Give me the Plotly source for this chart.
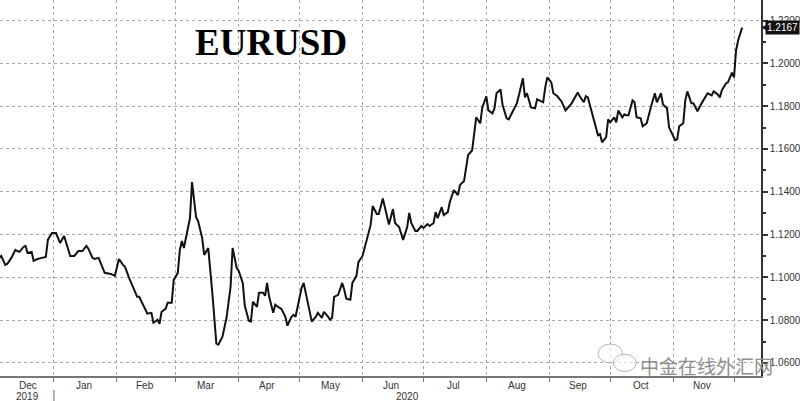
import plotly.graph_objects as go

# ---- data ----
dates = [
    "2019-12-05", "2019-12-06", "2019-12-08", "2019-12-09", "2019-12-11", "2019-12-13", "2019-12-14",
    "2019-12-15", "2019-12-17", "2019-12-18", "2019-12-19", "2019-12-21", "2019-12-22", "2019-12-24",
    "2019-12-26", "2019-12-28", "2019-12-29", "2019-12-31", "2020-01-02", "2020-01-04", "2020-01-06",
    "2020-01-09", "2020-01-11", "2020-01-13", "2020-01-15", "2020-01-17", "2020-01-18", "2020-01-20",
    "2020-01-21", "2020-01-23", "2020-01-26", "2020-01-29", "2020-01-31", "2020-02-02", "2020-02-04",
    "2020-02-05", "2020-02-07", "2020-02-08", "2020-02-11", "2020-02-12", "2020-02-15", "2020-02-16",
    "2020-02-18", "2020-02-19", "2020-02-21", "2020-02-22", "2020-02-23", "2020-02-25", "2020-02-26",
    "2020-02-28", "2020-02-29", "2020-03-02", "2020-03-03", "2020-03-04", "2020-03-05", "2020-03-07",
    "2020-03-08", "2020-03-09", "2020-03-11", "2020-03-12", "2020-03-14", "2020-03-15", "2020-03-17",
    "2020-03-19", "2020-03-21", "2020-03-22", "2020-03-24", "2020-03-26", "2020-03-28", "2020-03-29",
    "2020-03-31", "2020-04-01", "2020-04-03", "2020-04-04", "2020-04-06", "2020-04-07", "2020-04-08",
    "2020-04-10", "2020-04-11", "2020-04-13", "2020-04-14", "2020-04-15", "2020-04-16", "2020-04-18",
    "2020-04-19", "2020-04-21", "2020-04-22", "2020-04-24", "2020-04-25", "2020-04-27", "2020-04-28",
    "2020-04-29", "2020-04-30", "2020-05-02", "2020-05-03", "2020-05-05", "2020-05-07", "2020-05-09",
    "2020-05-10", "2020-05-12", "2020-05-13", "2020-05-15", "2020-05-16", "2020-05-17", "2020-05-18",
    "2020-05-20", "2020-05-22", "2020-05-23", "2020-05-24", "2020-05-26", "2020-05-27", "2020-05-29",
    "2020-05-30", "2020-06-01", "2020-06-02", "2020-06-04", "2020-06-05", "2020-06-06", "2020-06-08",
    "2020-06-09", "2020-06-10", "2020-06-11", "2020-06-14", "2020-06-16", "2020-06-17", "2020-06-19",
    "2020-06-21", "2020-06-23", "2020-06-24", "2020-06-25", "2020-06-27", "2020-06-28", "2020-06-30",
    "2020-07-01", "2020-07-03", "2020-07-04", "2020-07-06", "2020-07-07", "2020-07-08", "2020-07-10",
    "2020-07-11", "2020-07-13", "2020-07-14", "2020-07-16", "2020-07-18", "2020-07-19", "2020-07-21",
    "2020-07-22", "2020-07-23", "2020-07-25", "2020-07-26", "2020-07-27", "2020-07-29", "2020-07-30",
    "2020-08-01", "2020-08-02", "2020-08-04", "2020-08-05", "2020-08-06", "2020-08-08", "2020-08-09",
    "2020-08-11", "2020-08-12", "2020-08-14", "2020-08-16", "2020-08-17", "2020-08-19", "2020-08-20",
    "2020-08-21", "2020-08-23", "2020-08-25", "2020-08-26", "2020-08-28", "2020-08-29", "2020-08-30",
    "2020-08-31", "2020-09-02", "2020-09-03", "2020-09-05", "2020-09-07", "2020-09-09", "2020-09-11",
    "2020-09-12", "2020-09-15", "2020-09-16", "2020-09-18", "2020-09-19", "2020-09-20", "2020-09-22",
    "2020-09-25", "2020-09-26", "2020-09-27", "2020-09-29", "2020-09-30", "2020-10-01", "2020-10-03",
    "2020-10-04", "2020-10-05", "2020-10-07", "2020-10-08", "2020-10-09", "2020-10-10", "2020-10-12",
    "2020-10-13", "2020-10-14", "2020-10-16", "2020-10-17", "2020-10-19", "2020-10-21", "2020-10-23",
    "2020-10-24", "2020-10-26", "2020-10-27", "2020-10-29", "2020-10-30", "2020-11-01", "2020-11-02",
    "2020-11-03", "2020-11-04", "2020-11-06", "2020-11-07", "2020-11-08", "2020-11-10", "2020-11-11",
    "2020-11-13", "2020-11-15", "2020-11-17", "2020-11-18", "2020-11-20", "2020-11-21", "2020-11-23",
    "2020-11-24", "2020-11-25", "2020-11-27", "2020-11-28", "2020-11-30", "2020-12-01", "2020-12-02",
    "2020-12-03", "2020-12-05",
]
eurusd = [
    1.1091, 1.1100, 1.1058, 1.1063, 1.1091, 1.1128, 1.1123,
    1.1119, 1.1142, 1.1147, 1.1114, 1.1119, 1.1077, 1.1086,
    1.1091, 1.1095, 1.1175, 1.1207, 1.1207, 1.1161, 1.1193,
    1.1100, 1.1100, 1.1123, 1.1123, 1.1147, 1.1133, 1.1091,
    1.1086, 1.1091, 1.1021, 1.1016, 1.1007, 1.1086, 1.1058,
    1.1049, 1.0998, 1.0974, 1.0909, 1.0909, 1.0848, 1.0830,
    1.0834, 1.0788, 1.0802, 1.0783, 1.0839, 1.0853, 1.0881,
    1.0881, 1.0988, 1.1021, 1.1128, 1.1170, 1.1137, 1.1231,
    1.1277, 1.1445, 1.1282, 1.1263, 1.1184, 1.1105, 1.1137,
    1.0928, 1.0690, 1.0685, 1.0723, 1.0811, 1.0956, 1.1137,
    1.1044, 1.1030, 1.0974, 1.0867, 1.0797, 1.0793, 1.0886,
    1.0862, 1.0928, 1.0928, 1.0914, 1.0974, 1.0909, 1.0834,
    1.0872, 1.0858, 1.0853, 1.0816, 1.0774, 1.0816, 1.0825,
    1.0816, 1.0862, 1.0951, 1.0974, 1.0881, 1.0793, 1.0816,
    1.0834, 1.0811, 1.0839, 1.0816, 1.0802, 1.0811, 1.0909,
    1.0918, 1.0974, 1.0942, 1.0900, 1.0895, 1.0974, 1.1007,
    1.1072, 1.1100, 1.1137, 1.1198, 1.1245, 1.1333, 1.1296,
    1.1296, 1.1338, 1.1368, 1.1247, 1.1319, 1.1254, 1.1235,
    1.1175, 1.1235, 1.1301, 1.1254, 1.1217, 1.1217, 1.1240,
    1.1231, 1.1249, 1.1240, 1.1254, 1.1305, 1.1277, 1.1328,
    1.1291, 1.1305, 1.1352, 1.1408, 1.1384, 1.1431, 1.1450,
    1.1524, 1.1571, 1.1594, 1.1664, 1.1748, 1.1720, 1.1794,
    1.1846, 1.1780, 1.1766, 1.1790, 1.1860, 1.1878, 1.1804,
    1.1743, 1.1738, 1.1776, 1.1813, 1.1850, 1.1930, 1.1841,
    1.1860, 1.1794, 1.1790, 1.1832, 1.1822, 1.1818, 1.1888,
    1.1934, 1.1911, 1.1860, 1.1846, 1.1822, 1.1780, 1.1804,
    1.1813, 1.1864, 1.1846, 1.1818, 1.1846, 1.1841, 1.1771,
    1.1664, 1.1669, 1.1631, 1.1655, 1.1738, 1.1724, 1.1748,
    1.1724, 1.1780, 1.1748, 1.1762, 1.1757, 1.1757, 1.1827,
    1.1818, 1.1748, 1.1743, 1.1706, 1.1720, 1.1794, 1.1860,
    1.1818, 1.1860, 1.1808, 1.1790, 1.1701, 1.1655, 1.1641,
    1.1645, 1.1706, 1.1720, 1.1827, 1.1869, 1.1813, 1.1813,
    1.1776, 1.1813, 1.1846, 1.1860, 1.1850, 1.1869, 1.1855,
    1.1841, 1.1874, 1.1906, 1.1911, 1.1957, 1.1934, 1.2060,
    1.2107, 1.2167,
]
last_price = 1.2167
title_text = "EURUSD"

month_starts = ["2020-01-01", "2020-02-01", "2020-03-01", "2020-04-01", "2020-05-01", "2020-06-01",
                "2020-07-01", "2020-08-01", "2020-09-01", "2020-10-01", "2020-11-01", "2020-12-01"]
month_labels = ["Dec", "Jan", "Feb", "Mar", "Apr", "May", "Jun", "Jul", "Aug", "Sep", "Oct", "Nov"]
month_label_dates = ["2019-12-19", "2020-01-16", "2020-02-15", "2020-03-16", "2020-04-15", "2020-05-16",
                     "2020-06-15", "2020-07-16", "2020-08-16", "2020-09-15", "2020-10-16", "2020-11-15"]
year_labels = ["2019", "2020"]
year_label_dates = ["2019-12-19", "2020-06-23"]
ytick_vals = [1.06, 1.08, 1.10, 1.12, 1.14, 1.16, 1.18, 1.20, 1.22]
ytick_text = ["%.4f" % v for v in ytick_vals]
watermark = "中金在线外汇网"

GRID = "#a8a8a8"
fig = go.Figure()
fig.add_trace(go.Scatter(x=dates, y=eurusd, mode="lines",
                         line=dict(color="#111111", width=2), hoverinfo="skip"))

annotations = []
for lab, d in zip(month_labels, month_label_dates):
    annotations.append(dict(x=d, y=0, xref="x", yref="paper", text=lab, showarrow=False,
                            yanchor="middle", yshift=-9,
                            font=dict(family="Liberation Sans, Arial", size=10, color="#333333")))
for lab, d in zip(year_labels, year_label_dates):
    annotations.append(dict(x=d, y=0, xref="x", yref="paper", text=lab, showarrow=False,
                            yanchor="middle", yshift=-20,
                            font=dict(family="Liberation Sans, Arial", size=10, color="#333333")))
annotations.append(dict(x=0.356, y=1, xref="paper", yref="paper", text="<b>" + title_text + "</b>",
                        showarrow=False, yanchor="middle", yshift=-42,
                        font=dict(family="Liberation Serif, Times New Roman", size=37, color="#000000")))
annotations.append(dict(x=0.928, y=0, xref="paper", yref="paper", text=watermark,
                        showarrow=False, xanchor="center", yanchor="middle", yshift=11,
                        font=dict(family="Noto Sans CJK SC", size=19, color="#8f8f8f")))
annotations.append(dict(x=1, y=last_price, xref="paper", yref="y", text="%.4f" % last_price,
                        showarrow=False, xanchor="left", yanchor="middle", xshift=4,
                        bgcolor="#111111", borderpad=1,
                        font=dict(family="Liberation Sans, Arial", size=10, color="#ffffff")))

shapes = [
    # pointer of the last-price tag
    dict(type="path", xref="paper", yref="y",
         path="M 1.0 %f L 1.0075 %f L 1.0075 %f Z" % (last_price, last_price + 0.0013, last_price - 0.0013),
         fillcolor="#111111", line=dict(width=0)),
    # year separator below the axis
    dict(type="line", xref="x", yref="paper", x0="2020-01-01", x1="2020-01-01",
         y0=-0.037, y1=-0.068, line=dict(color="#666666", width=1)),
    # watermark logo (two speech bubbles)
    dict(type="circle", xref="paper", yref="paper", x0=0.786, x1=0.818, y0=0.035, y1=0.085,
         line=dict(color="#b5b5b5", width=1), fillcolor="rgba(255,255,255,0.6)"),
    dict(type="circle", xref="paper", yref="paper", x0=0.806, x1=0.836, y0=0.012, y1=0.058,
         line=dict(color="#b5b5b5", width=1), fillcolor="rgba(255,255,255,0.6)"),
]

fig.update_layout(
    width=800, height=401,
    margin=dict(l=0, r=39, t=0, b=25),
    paper_bgcolor="white", plot_bgcolor="white",
    showlegend=False,
    annotations=annotations,
    shapes=shapes,
    xaxis=dict(type="date", range=["2019-12-05 10:00", "2020-12-14 07:00"],
               tickvals=month_starts, showticklabels=False,
               showgrid=True, gridcolor=GRID, griddash="dot", gridwidth=1,
               showline=True, linecolor="#777777", linewidth=2,
               ticks="outside", ticklen=4, tickcolor="#777777", tickwidth=1,
               zeroline=False, automargin=False, fixedrange=True),
    yaxis=dict(side="right", range=[1.0539, 1.2296],
               tickvals=ytick_vals, ticktext=ytick_text,
               showgrid=True, gridcolor=GRID, griddash="dot", gridwidth=1,
               showline=True, linecolor="#333333", linewidth=1.5,
               ticks="outside", ticklen=5, tickwidth=2, tickcolor="#333333",
               tickfont=dict(family="Liberation Sans, Arial", size=10, color="#333333"),
               minor=dict(dtick=0.01, tick0=1.05, ticks="outside", ticklen=3, tickcolor="#333333",
                          showgrid=False),
               zeroline=False, automargin=False, fixedrange=True),
)

fig.write_html("out.html", config={"displayModeBar": False},
               post_script="document.body.style.margin='0';document.body.style.overflow='hidden';")
